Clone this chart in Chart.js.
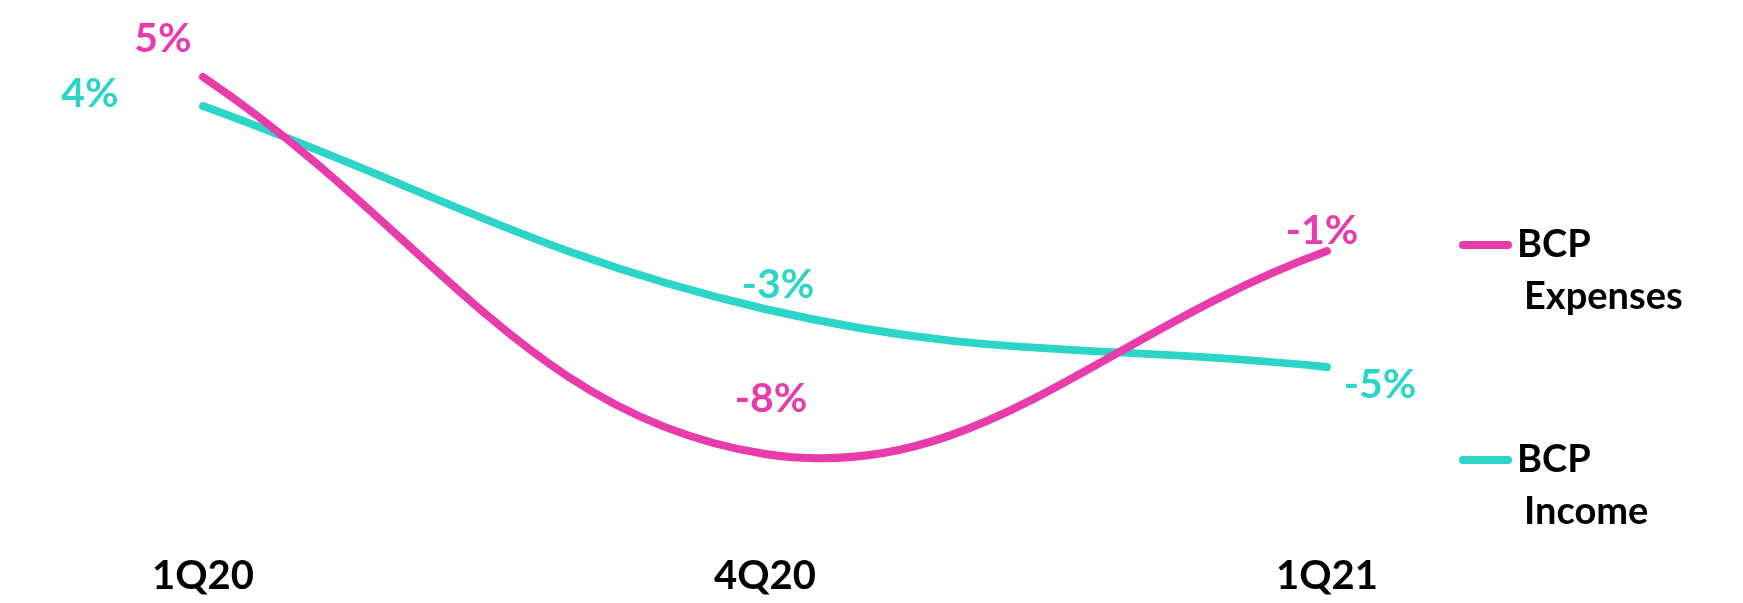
<!DOCTYPE html>
<html>
<head>
<meta charset="utf-8">
<script src="https://cdn.jsdelivr.net/npm/chart.js@4"></script>
<style>
    body{ margin:0; background:#fff; }
    #wrap{ width:1743px; height:603px; }
</style>
</head>
<body>
<div id="wrap"><canvas id="graph"></canvas></div>
<script>
const quarters = ['1Q20', '4Q20', '1Q21'];
const expenses = [5, -8, -1];
const income = [4, -3, -5];

const seriesNames = ['BCP Expenses', 'BCP Income'];
const seriesColors = ['#e93cac', '#2dd5c9'];

// where each value label sits, relative to its point
const labelOffsets = [
    [[-40, -38], [6, -55], [-5, -20]],
    [[-113, -12], [13, -24], [53, 18]]
];


const valueLabels = {
    id: 'valueLabels',
    afterDatasetsDraw(chart){

        const ctx = chart.ctx;
        ctx.save();
        ctx.font = 'bold 41px Lato';
        ctx.textAlign = 'center';
        ctx.textBaseline = 'middle';

        chart.data.datasets.forEach((ds, i) => {
            chart.getDatasetMeta(i).data.forEach((pt, j) => {
                const [dx, dy] = labelOffsets[i][j];
                ctx.fillStyle = ds.borderColor;
                ctx.fillText(ds.data[j] + '%', pt.x + dx, pt.y + dy);
            })
        })
        ctx.restore();
    }
};

// legend on the right, name broken over two lines
const sideLegend = {
    id: 'sideLegend',
    afterDraw(chart){

        const ctx = chart.ctx;
        const x0 = chart.chartArea.right + 136;
        const rows = [245, 460];

        ctx.save();
        ctx.lineCap = 'round';
        ctx.lineWidth = 8;
        ctx.font = 'bold 38px Lato';
        ctx.fillStyle = '#000';

        chart.data.datasets.forEach((ds, i) => {
            const y = rows[i];
            ctx.strokeStyle = ds.borderColor;
            ctx.beginPath();
            ctx.moveTo(x0, y);
            ctx.lineTo(x0 + 45, y);
            ctx.stroke();

            const words = ds.label.split(' ');
            ctx.fillText(words[0], x0 + 54, y + 12);
            ctx.fillText(words.slice(1).join(' '), x0 + 61, y + 64);
        })
        ctx.restore();
    }
};


new Chart(document.getElementById('graph'), {
    type: 'line',
    data: {
        labels: quarters,
        datasets: [
            { label: seriesNames[0], data: expenses, borderColor: seriesColors[0] },
            { label: seriesNames[1], data: income, borderColor: seriesColors[1] }
        ]
    },
    options: {
        responsive: true,
        maintainAspectRatio: false,
        animation: false,
        layout: {
            padding: { left: 203, right: 416, top: 48, bottom: 2 }
        },
        plugins: {
            legend: { display: false },
            tooltip: { enabled: false }
        },
        elements: {
            point: { radius: 0 },
            line: { tension: 0.4, borderWidth: 8, borderCapStyle: 'round', fill: false }
        },
        datasets: {
            line: { clip: false }
        },
        scales: {
            x: {
                grid: { display: false, drawTicks: false },
                border: { display: false },
                ticks: {
                    color: '#000',
                    font: { family: 'Lato', size: 40, weight: 'bold' },
                    padding: 40,
                    maxRotation: 0
                },
                afterFit(scale){
                    scale.height = 89;
                }
            },
            y: { display: false, min: -10, max: 6 }
        }
    },
    plugins: [valueLabels, sideLegend]
});
</script>
</body>
</html>
